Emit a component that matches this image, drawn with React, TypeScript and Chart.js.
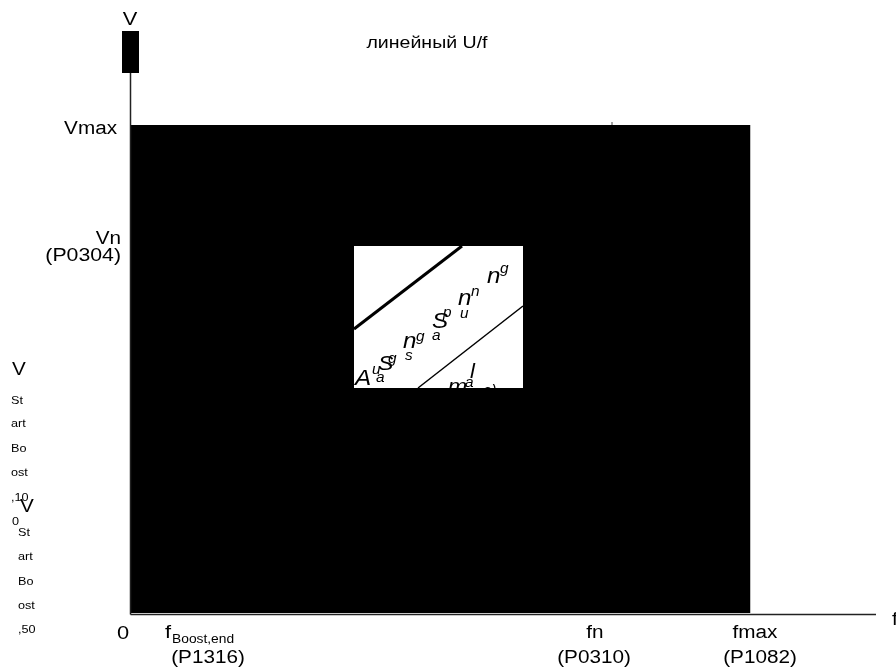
import React, { useEffect, useRef } from "react";
import { Chart, registerables } from "chart.js";

Chart.register(...registerables);

// ---- data (frequency f on x, voltage V on y; arbitrary units) ----
const F_MIN = -130.5;
const F_RANGE_MAX = 765.5;
const V_MIN = -56.5;
const V_RANGE_MAX = 614.5;

const F_AXIS_END = 745.5;
const V_AXIS_END = 541.5;
const ARROW_F = [-8.5, 8.5];
const ARROW_V = [541.5, 583.5];

const AREA_F = [0, 620];
const AREA_V = [1.5, 489.5];

const WINDOW_F = [223.5, 392.5];
const WINDOW_V = [226.5, 368.5];

const THICK_LINE = [
  { x: 223.5, y: 285.5 },
  { x: 331.5, y: 368.5 },
];
const THIN_LINE = [
  { x: 287.5, y: 226.5 },
  { x: 392.5, y: 308.5 },
];
const TICK_MARK = [
  { x: 481.5, y: 489.5 },
  { x: 481.5, y: 492.5 },
];

// axis / tick labels: [text, x, y, size, align]
type Lbl = [string, number, number, number, CanvasTextAlign];
const TITLE: Lbl[] = [["линейный U/f", 296.5, 571.5, 17, "center"]];
const Y_TICKS: Lbl[] = [
  ["V", -0.5, 594.5, 19, "center"],
  ["Vmax", -13.5, 485.5, 18, "right"],
  ["Vn", -9.5, 375.5, 18, "right"],
  ["(P0304)", -9.5, 358.5, 18.5, "right"],
];
const X_TICKS: Lbl[] = [
  ["0", -7.5, -19.5, 19, "center"],
  ["f", 34.5, -18.5, 19, "left"],
  ["Boost,end", 41.5, -25.5, 12, "left"],
  ["(P1316)", 77.5, -43.5, 18, "center"],
  ["fn", 464.5, -18.5, 18, "center"],
  ["(P0310)", 463.5, -43.5, 18, "center"],
  ["fmax", 624.5, -18.5, 18, "center"],
  ["(P1082)", 629.5, -43.5, 18, "center"],
  ["f", 761.5, -5.5, 18, "left"],
];
const BOOST_100: Lbl[] = [
  ["V", -118.5, 244.5, 18, "left"],
  ["St", -119.5, 213.5, 11, "left"],
  ["art", -119.5, 190.5, 11, "left"],
  ["Bo", -119.5, 165.5, 11, "left"],
  ["ost", -119.5, 141.5, 11, "left"],
  [",10", -119.5, 116.5, 11, "left"],
  ["0", -118.5, 92.5, 11, "left"],
];
const BOOST_50: Lbl[] = [
  ["V", -110.5, 107.5, 18, "left"],
  ["St", -112.5, 81.5, 11, "left"],
  ["art", -112.5, 57.5, 11, "left"],
  ["Bo", -112.5, 32.5, 11, "left"],
  ["ost", -112.5, 8.5, 11, "left"],
  [",50", -112.5, -15.5, 11, "left"],
];
// scattered italic letters in the window (baseline, left)
const WINDOW_TEXT: [string, number, number, number][] = [
  ["A", 224.5, 229.5, 22],
  ["u", 241.5, 240.5, 14],
  ["a", 245.5, 232.5, 14],
  ["S", 247.5, 244.5, 21],
  ["g", 257.5, 251.5, 14],
  ["n", 272.5, 266.5, 22],
  ["g", 285.5, 273.5, 14],
  ["s", 274.5, 254.5, 14],
  ["S", 301.5, 286.5, 22],
  ["p", 312.5, 297.5, 14],
  ["a", 301.5, 274.5, 14],
  ["n", 327.5, 309.5, 22],
  ["n", 340.5, 318.5, 14],
  ["u", 329.5, 296.5, 14],
  ["n", 356.5, 331.5, 22],
  ["g", 369.5, 341.5, 14],
  ["l", 339.5, 236.5, 20],
  ["a", 334.5, 227.5, 14],
  ["m", 317.5, 221.5, 21],
  ["e)", 352.5, 219.5, 14],
];

const FONT = "'Liberation Sans', Arial, sans-serif";
const STRETCH = 1.15;

const textPlugin = {
  id: "uftext",
  afterDatasetsDraw(chart: any) {
    const { ctx, scales } = chart;
    const xs = scales.x;
    const ys = scales.y;
    ctx.save();
    ctx.fillStyle = "#000";
    const draw = (l: Lbl, sx: number) => {
      const [t, fx, vy, size, align] = l;
      ctx.save();
      ctx.font = `${size}px ${FONT}`;
      ctx.textAlign = align;
      ctx.textBaseline = "middle";
      ctx.translate(xs.getPixelForValue(fx), ys.getPixelForValue(vy));
      ctx.scale(sx, 1);
      ctx.fillText(t, 0, 0);
      ctx.restore();
    };
    [...TITLE, ...Y_TICKS, ...X_TICKS, ...BOOST_100, ...BOOST_50].forEach((l) =>
      draw(l, STRETCH)
    );
    // window letters, clipped to the window
    const wx0 = xs.getPixelForValue(WINDOW_F[0]);
    const wx1 = xs.getPixelForValue(WINDOW_F[1]);
    const wy0 = ys.getPixelForValue(WINDOW_V[1]);
    const wy1 = ys.getPixelForValue(WINDOW_V[0]);
    ctx.beginPath();
    ctx.rect(wx0, wy0, wx1 - wx0, wy1 - wy0);
    ctx.clip();
    WINDOW_TEXT.forEach(([t, fx, vy, size]) => {
      ctx.save();
      ctx.font = `italic ${size}px ${FONT}`;
      ctx.textAlign = "left";
      ctx.textBaseline = "alphabetic";
      ctx.translate(xs.getPixelForValue(fx), ys.getPixelForValue(vy));
      ctx.scale(1.1, 1);
      ctx.fillText(t, 0, 0);
      ctx.restore();
    });
    ctx.restore();
  },
};

const rectDataset = (f: number[], v: number[], color: string, order: number) => ({
  data: [
    { x: f[0], y: v[1] },
    { x: f[1], y: v[1] },
  ],
  showLine: true,
  fill: { value: v[0] },
  backgroundColor: color,
  borderColor: "rgba(0,0,0,0)",
  borderWidth: 1,
  pointRadius: 0,
  order,
});

const lineDataset = (pts: { x: number; y: number }[], color: string, width: number, order: number) => ({
  data: pts,
  showLine: true,
  fill: false,
  borderColor: color,
  borderWidth: width,
  pointRadius: 0,
  order,
});

export default function App() {
  const ref = useRef<HTMLCanvasElement>(null);
  useEffect(() => {
    if (!ref.current) return;
    const chart = new Chart(ref.current, {
      type: "scatter",
      data: {
        datasets: [
          rectDataset(AREA_F, AREA_V, "#000", 10),
          rectDataset(WINDOW_F, WINDOW_V, "#fff", 9),
          rectDataset(ARROW_F, ARROW_V, "#000", 8),
          lineDataset([{ x: 0, y: 0 }, { x: F_AXIS_END, y: 0 }], "#222", 1.5, 5),
          lineDataset([{ x: 0, y: 0 }, { x: 0, y: V_AXIS_END }], "#222", 1.5, 5),
          lineDataset(THICK_LINE, "#000", 3, 2),
          lineDataset(THIN_LINE, "#000", 1.5, 2),
          lineDataset(TICK_MARK, "#444", 1, 2),
        ] as any,
      },
      options: {
        animation: false,
        responsive: false,
        maintainAspectRatio: false,
        devicePixelRatio: 1,
        layout: { padding: 0 },
        plugins: { legend: { display: false }, tooltip: { enabled: false } },
        scales: {
          x: { type: "linear", min: F_MIN, max: F_RANGE_MAX, display: false },
          y: { type: "linear", min: V_MIN, max: V_RANGE_MAX, display: false },
        },
      },
      plugins: [textPlugin],
    });
    return () => chart.destroy();
  }, []);
  return (
    <div style={{ position: "fixed", left: 0, top: 0, width: 896, height: 671, background: "#fff" }}>
      <canvas ref={ref} width={896} height={671} style={{ display: "block" }} />
    </div>
  );
}
